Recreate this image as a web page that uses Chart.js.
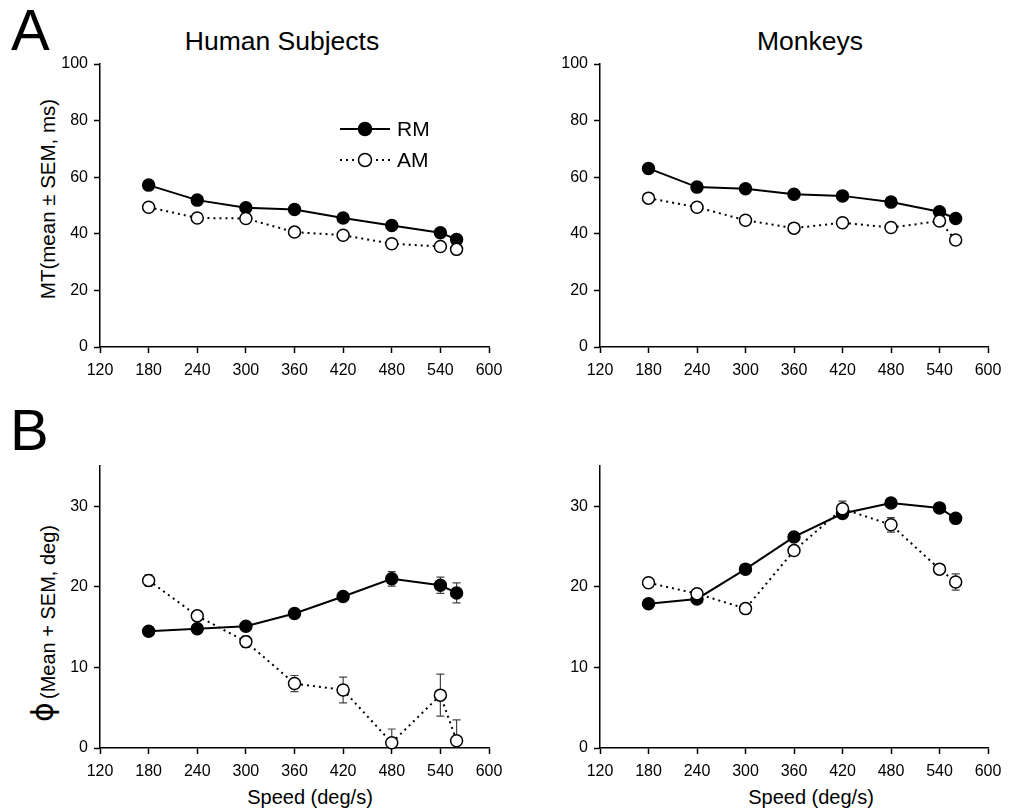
<!DOCTYPE html>
<html>
<head>
<meta charset="utf-8">
<script src="https://cdn.jsdelivr.net/npm/chart.js@4.4.1/dist/chart.umd.min.js"></script>
<style>
  body { margin: 0; background: #fff; overflow: hidden; }
  #wrap { position: relative; width: 1016px; height: 811px; }
  canvas { position: absolute; }
  .t {
    position: absolute;
    font-family: "Liberation Sans", Arial, sans-serif;
    line-height: 1;
    white-space: nowrap;
    color: #000;
  }
  .mid { transform: translateX(-50%); }
  .rot { transform: translate(-50%, -50%) rotate(-90deg); }
</style>
</head>
<body>
<div id="wrap">
  <div class="t" style="left:11px; top:1px; font-size:58px;">A</div>
  <div class="t" style="left:10px; top:401px; font-size:58px;">B</div>
  <div class="t mid" style="left:282px; top:28px; font-size:26.5px;">Human Subjects</div>
  <div class="t mid" style="left:810px; top:28px; font-size:26.5px;">Monkeys</div>
  <div class="t rot" style="left:48px; top:199px; font-size:20.5px;">MT(mean ± SEM, ms)</div>
  <div class="t rot" style="left:43px; top:712px; font-size:30px; font-family:'DejaVu Sans', sans-serif;">ϕ</div>
  <div class="t rot" style="left:48px; top:612px; font-size:20px;">(Mean + SEM, deg)</div>
  <div class="t mid" style="left:310px; top:787px; font-size:20px;">Speed (deg/s)</div>
  <div class="t mid" style="left:811px; top:787px; font-size:20px;">Speed (deg/s)</div>

  <canvas id="humanMt" width="520" height="360" style="left:0; top:40px;"></canvas>
  <canvas id="monkeyMt" width="516" height="360" style="left:500px; top:40px;"></canvas>
  <canvas id="humanPhi" width="520" height="360" style="left:0; top:440px;"></canvas>
  <canvas id="monkeyPhi" width="516" height="360" style="left:500px; top:440px;"></canvas>
</div>
<script>
// speeds (deg/s)
const speeds = [180, 240, 300, 360, 420, 480, 540, 560];
const xTicks = [120, 180, 240, 300, 360, 420, 480, 540, 600];
const mtTicks = [0, 20, 40, 60, 80, 100];
const phiTicks = [0, 10, 20, 30];

// A: movement time
const humanMtRM = [57.2, 51.9, 49.2, 48.6, 45.6, 42.9, 40.4, 38.0];
const humanMtAM = [49.4, 45.6, 45.4, 40.6, 39.5, 36.5, 35.5, 34.5];
const monkeyMtRM = [63.1, 56.5, 55.9, 54.0, 53.4, 51.2, 47.8, 45.4];
const monkeyMtAM = [52.6, 49.4, 44.8, 42.0, 43.9, 42.2, 44.5, 37.8];

// B: phi
const humanPhiRM = [14.5, 14.8, 15.1, 16.7, 18.8, 21.0, 20.2, 19.25];
const humanPhiAM = [20.8, 16.4, 13.2, 8.0, 7.2, 0.66, 6.56, 0.9];
const humanPhiRMErr = [0.3, 0.3, 0.3, 0.3, 0.4, 0.9, 1.0, 1.25];
const humanPhiAMErr = [0.7, 0.5, 0.7, 1.0, 1.6, 1.7, 2.6, 2.6];
const monkeyPhiRM = [17.9, 18.5, 22.2, 26.2, 29.1, 30.4, 29.8, 28.5];
const monkeyPhiAM = [20.5, 19.15, 17.3, 24.5, 29.7, 27.7, 22.2, 20.6];
const monkeyPhiRMErr = [0.3, 0.3, 0.3, 0.3, 0.3, 0.3, 0.3, 0.3];
const monkeyPhiAMErr = [0.4, 0.3, 0.4, 0.5, 0.95, 0.9, 0.5, 1.0];

const font = "'Liberation Sans', Arial, sans-serif";

const errorBars = {
  id: "errorBars",
  beforeDatasetsDraw(chart) {
    const ctx = chart.ctx;
    const xs = chart.scales.x;
    const ys = chart.scales.y;
    chart.data.datasets.forEach((ds) => {
      if (!ds.errors) return;
      ctx.save();
      ctx.strokeStyle = "#444";
      ctx.lineWidth = 1.2;
      ds.data.forEach((p, i) => {
        const px = xs.getPixelForValue(p.x);
        const top = ys.getPixelForValue(p.y + ds.errors[i]);
        const bot = ys.getPixelForValue(Math.max(p.y - ds.errors[i], ys.min));
        ctx.beginPath();
        ctx.moveTo(px, top);
        ctx.lineTo(px, bot);
        ctx.moveTo(px - 4, top);
        ctx.lineTo(px + 4, top);
        if (p.y - ds.errors[i] > ys.min) {
          ctx.moveTo(px - 4, bot);
          ctx.lineTo(px + 4, bot);
        }
        ctx.stroke();
      });
      ctx.restore();
    });
  },
};

const lineLegend = {
  id: "lineLegend",
  afterDraw(chart) {
    if (!chart.options.plugins.lineLegend.show) return;
    const ctx = chart.ctx;
    const rows = [
      { y: 89, label: "RM", dash: [], fill: "#000" },
      { y: 120, label: "AM", dash: [2, 4], fill: "#fff" },
    ];
    ctx.save();
    rows.forEach((r) => {
      ctx.strokeStyle = "#000";
      ctx.lineWidth = 2;
      ctx.setLineDash(r.dash);
      ctx.beginPath();
      ctx.moveTo(340, r.y);
      ctx.lineTo(390, r.y);
      ctx.stroke();
      ctx.setLineDash([]);
      ctx.beginPath();
      ctx.arc(365, r.y, 6.5, 0, Math.PI * 2);
      ctx.fillStyle = r.fill;
      ctx.fill();
      ctx.lineWidth = 1.5;
      ctx.stroke();
      ctx.fillStyle = "#000";
      ctx.font = "21px " + font;
      ctx.textBaseline = "middle";
      ctx.fillText(r.label, 397, r.y + 1);
    });
    ctx.restore();
  },
};

function points(values) {
  return speeds.map((s, i) => ({ x: s, y: values[i] }));
}

function makePanel(id, rm, am, rmErr, amErr, yTicks, yMax, padTop, xHeight, showLegend) {
  const canvas = document.querySelector("#" + id);
  return new Chart(canvas, {
    type: "line",
    data: {
      datasets: [
        {
          label: "RM",
          data: points(rm),
          errors: rmErr,
          order: 1,
          borderColor: "#000",
          borderWidth: 2,
          pointRadius: 6,
          pointBorderWidth: 1.5,
          pointBackgroundColor: "#000",
          pointBorderColor: "#000",
          clip: false,
        },
        {
          label: "AM",
          data: points(am),
          errors: amErr,
          order: 0,
          borderColor: "#000",
          borderWidth: 2,
          borderDash: [2, 4],
          pointRadius: 6,
          pointBorderWidth: 1.5,
          pointBackgroundColor: "#fff",
          pointBorderColor: "#000",
          clip: false,
        },
      ],
    },
    options: {
      responsive: false,
      animation: false,
      devicePixelRatio: 1,
      layout: { padding: { left: 0, right: canvas.width - 489 + (id.startsWith("monkey") ? 1 : 0), top: padTop, bottom: 0 } },
      plugins: {
        legend: { display: false },
        tooltip: { enabled: false },
        lineLegend: { show: showLegend },
      },
      scales: {
        x: {
          type: "linear",
          min: 120,
          max: 600,
          afterBuildTicks: (scale) => {
            scale.ticks = xTicks.map((v) => ({ value: v }));
          },
          afterFit: (scale) => {
            scale.height = xHeight;
          },
          ticks: { color: "#000", font: { family: font, size: 16 }, padding: 8, maxRotation: 0 },
          grid: { drawOnChartArea: false, drawTicks: true, tickLength: 6, tickColor: "#000", tickWidth: 1.5 },
          border: { display: true, color: "#000", width: 1.5 },
        },
        y: {
          min: 0,
          max: yMax,
          afterBuildTicks: (scale) => {
            scale.ticks = yTicks.map((v) => ({ value: v }));
          },
          afterFit: (scale) => {
            scale.width = 100;
          },
          ticks: { color: "#000", font: { family: font, size: 16 }, padding: 6 },
          grid: { drawOnChartArea: false, drawTicks: true, tickLength: 6, tickColor: "#000", tickWidth: 1.5 },
          border: { display: true, color: "#000", width: 1.5 },
        },
      },
    },
    plugins: [errorBars, lineLegend],
  });
}

const chart1 = makePanel("humanMt", humanMtRM, humanMtAM, null, null, mtTicks, 100, 24, 53, true);
const chart2 = makePanel("monkeyMt", monkeyMtRM, monkeyMtAM, null, null, mtTicks, 100, 24, 53, false);
const chart3 = makePanel("humanPhi", humanPhiRM, humanPhiAM, humanPhiRMErr, humanPhiAMErr, phiTicks, 35, 26, 52, false);
const chart4 = makePanel("monkeyPhi", monkeyPhiRM, monkeyPhiAM, monkeyPhiRMErr, monkeyPhiAMErr, phiTicks, 35, 26, 52, false);
</script>
</body>
</html>
